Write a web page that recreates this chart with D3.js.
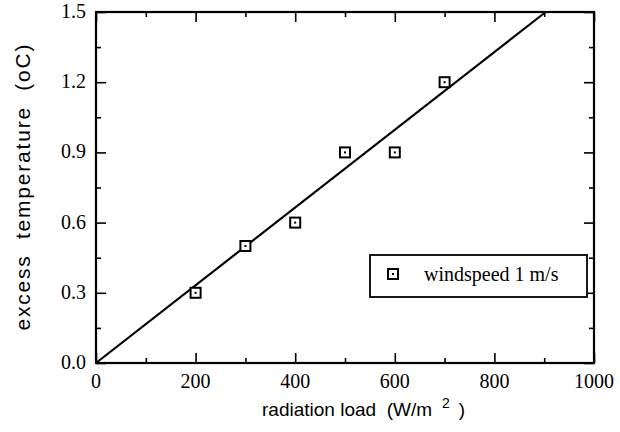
<!DOCTYPE html>
<html>
<head>
<meta charset="utf-8">
<script src="https://cdn.jsdelivr.net/npm/d3@7"></script>
<style>
  html, body { margin: 0; padding: 0; background: #fff; }
  svg { display: block; }
</style>
</head>
<body>
<svg id="chart" width="620" height="432"></svg>
<script>
// ---- data ----
const radiation = [200, 300, 400, 500, 600, 700];
const excessTemp = [0.3, 0.5, 0.6, 0.9, 0.9, 1.2];
const fitLineX = [0, 903];
const fitLineY = [0, 1.5];
const xMajorTicks = [0, 200, 400, 600, 800, 1000];
const xMinorTicks = [100, 300, 500, 700, 900];
const yMajorTicks = [0.0, 0.3, 0.6, 0.9, 1.2, 1.5];
const yMinorTicks = [0.15, 0.45, 0.75, 1.05, 1.35];
const legendLabel = "windspeed 1 m/s";
const xTitle = "radiation load  (W/m";
const yTitle = "excess  temperature  (oC)";

const svg = d3.select("#chart");
const L = 96, R = 594, T = 12, B = 363;
const x = d3.scaleLinear().domain([0, 1000]).range([L, R]);
const y = d3.scaleLinear().domain([0, 1.5]).range([B, T]);

const serif = "'Liberation Serif', 'Times New Roman', serif";
const sans = "'Liberation Sans', Arial, Helvetica, sans-serif";

function axisG(axis, tx, ty) {
  const g = svg.append("g").attr("transform", `translate(${tx},${ty})`).call(axis);
  g.select(".domain").remove();
  g.selectAll("line").attr("stroke", "#000").attr("stroke-width", 1.6);
  g.selectAll("text").remove();
  return g;
}
// inward ticks
axisG(d3.axisBottom(x).tickValues(xMajorTicks).tickSize(-10), 0, B);
axisG(d3.axisBottom(x).tickValues(xMinorTicks).tickSize(-5), 0, B);
axisG(d3.axisTop(x).tickValues(xMajorTicks).tickSize(-10), 0, T);
axisG(d3.axisTop(x).tickValues(xMinorTicks).tickSize(-5), 0, T);
axisG(d3.axisLeft(y).tickValues(yMajorTicks).tickSize(-10), L, 0);
axisG(d3.axisLeft(y).tickValues(yMinorTicks).tickSize(-5), L, 0);
axisG(d3.axisRight(y).tickValues(yMajorTicks).tickSize(-10), R, 0);
axisG(d3.axisRight(y).tickValues(yMinorTicks).tickSize(-5), R, 0);

// frame
svg.append("rect").attr("x", L).attr("y", T).attr("width", R - L).attr("height", B - T)
  .attr("fill", "none").attr("stroke", "#000").attr("stroke-width", 2.2);

// tick labels
svg.append("g").selectAll("text").data(xMajorTicks).join("text")
  .attr("x", d => x(d)).attr("y", B + 25)
  .attr("text-anchor", "middle")
  .attr("font-family", serif).attr("font-size", 20)
  .text(d => d);
svg.append("g").selectAll("text").data(yMajorTicks).join("text")
  .attr("x", L - 10).attr("y", d => y(d) + 6)
  .attr("text-anchor", "end")
  .attr("font-family", serif).attr("font-size", 20)
  .text(d => d3.format(".1f")(d));

// axis titles
const xt = svg.append("text")
  .attr("x", 262).attr("y", 416)
  .attr("font-family", sans).attr("font-size", 19)
  .style("white-space", "pre");
xt.append("tspan").text(xTitle);
xt.append("tspan").attr("dx", 10).attr("dy", -8).attr("font-size", 14).text("2");
xt.append("tspan").attr("dx", 9).attr("dy", 8).text(")");

svg.append("text")
  .attr("transform", `translate(30,${(T + B) / 2}) rotate(-90)`)
  .attr("text-anchor", "middle")
  .attr("font-family", sans).attr("font-size", 21)
  .attr("textLength", 286).attr("lengthAdjust", "spacing")
  .style("white-space", "pre")
  .text(yTitle);

// fit line
const pts = fitLineX.map((d, i) => [d, fitLineY[i]]);
svg.append("path")
  .attr("d", d3.line().x(d => x(d[0])).y(d => y(d[1]))(pts))
  .attr("fill", "none").attr("stroke", "#000").attr("stroke-width", 2.2);

// markers
function marker(g, cx, cy) {
  g.append("rect").attr("x", cx - 5).attr("y", cy - 5).attr("width", 10).attr("height", 10)
    .attr("fill", "#fff").attr("stroke", "#000").attr("stroke-width", 2);
  g.append("rect").attr("x", cx - 1).attr("y", cy - 1).attr("width", 2).attr("height", 2).attr("fill", "#000");
}
const mg = svg.append("g");
radiation.forEach((d, i) => marker(mg, x(d), y(excessTemp[i])));

// legend
svg.append("rect").attr("x", 370).attr("y", 255).attr("width", 217).attr("height", 42)
  .attr("fill", "#fff").attr("stroke", "#000").attr("stroke-width", 1.8);
marker(svg.append("g"), 393, 274);
svg.append("text").attr("x", 424).attr("y", 281)
  .attr("font-family", serif).attr("font-size", 20)
  .text(legendLabel);
</script>
</body>
</html>
